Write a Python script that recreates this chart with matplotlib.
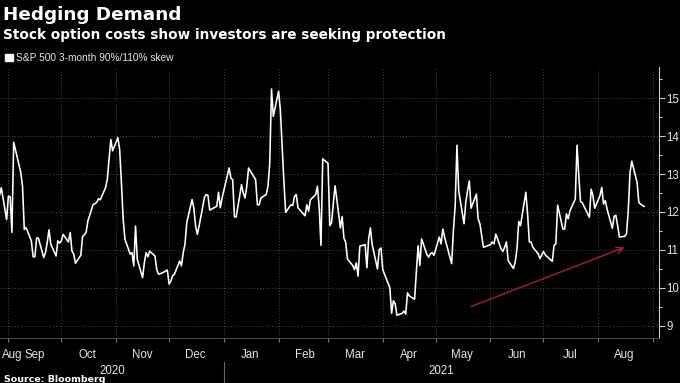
import pandas as pd
import matplotlib
matplotlib.use('Agg')
import matplotlib.pyplot as plt
import matplotlib.transforms as mtransforms
from matplotlib.ticker import MultipleLocator

# S&P 500 3-month 90%/110% skew, one value per trading day
skew = [
    12.44, 12.64, 11.80, 12.42, 12.40, 11.46, 13.84, 13.04, 12.68, 11.54,
    11.59, 11.24, 10.82, 10.82, 11.32, 11.31, 10.80, 10.93, 11.20, 11.53,
    11.15, 10.84, 11.24, 11.18, 11.24, 11.41, 11.21, 11.46, 10.97, 10.89,
    10.65, 10.86, 11.35, 11.40, 11.46, 11.76, 12.20, 12.22, 12.25, 12.35,
    12.32, 12.64, 12.86, 13.39, 13.91, 13.61, 13.96, 13.65, 12.77, 11.81,
    11.28, 10.89, 10.93, 10.58, 11.63, 10.75, 10.27, 10.67, 10.93, 10.82,
    10.97, 10.84, 10.49, 10.36, 10.39, 10.47, 10.10, 10.18, 10.32, 10.36,
    10.71, 10.58, 10.93, 11.15, 11.72, 12.33, 12.11, 11.63, 11.41, 11.63,
    12.38, 12.46, 12.44, 12.05, 12.15, 12.52, 12.11, 12.37, 13.16, 12.89,
    12.85, 11.87, 11.87, 12.72, 12.50, 12.37, 12.68, 13.16, 12.85, 12.19,
    12.19, 12.37, 12.46, 12.68, 13.29, 15.24, 14.52, 15.18, 14.69, 13.73,
    12.81, 11.99, 12.19, 12.17, 12.41, 12.46, 12.11, 11.90, 12.19, 12.02,
    12.32, 12.46, 12.68, 12.11, 11.12, 13.40, 13.28, 11.64, 11.72, 12.23,
    12.69, 11.58, 11.88, 11.31, 11.20, 10.76, 10.59, 10.48, 10.66, 10.31,
    11.10, 11.14, 10.53, 11.29, 11.58, 11.14, 10.50, 11.01, 11.05, 10.48,
    10.00, 9.33, 9.66, 9.59, 9.28, 9.33, 9.39, 9.31, 9.87, 9.79,
    9.70, 10.40, 11.11, 10.59, 11.29, 10.88, 10.81, 10.90, 10.93, 10.86,
    11.34, 11.16, 11.55, 11.34, 11.16, 10.64, 11.51, 12.17, 13.76, 12.56,
    11.69, 12.25, 12.56, 12.82, 12.10, 12.47, 11.82, 11.69, 11.38, 11.07,
    11.14, 11.21, 11.16, 11.42, 11.03, 10.96, 11.07, 11.21, 10.72, 10.51,
    10.68, 11.03, 11.75, 11.64, 12.52, 11.95, 11.21, 11.21, 11.07, 10.90,
    10.77, 10.86, 10.96, 10.87, 10.70, 11.12, 11.16, 12.18, 11.55, 11.55,
    11.95, 11.82, 12.03, 12.34, 13.76, 12.95, 12.27, 12.24, 11.95, 11.86,
    12.60, 12.43, 12.10, 12.43, 12.65, 12.21, 12.30, 12.08, 11.57, 11.89,
    11.91, 11.64, 11.34, 11.36, 11.42, 12.03, 13.04, 13.34, 12.78, 12.25,
    12.21, 12.17, 12.15,
]

# NYSE holidays in the window
holidays = ['2020-09-07', '2020-11-26', '2020-12-25', '2021-01-01', '2021-01-18',
            '2021-02-15', '2021-04-02', '2021-05-31', '2021-07-05']
dates = pd.bdate_range('2020-08-27', periods=len(skew), freq='C', holidays=holidays)

month_labels = ['Sep', 'Oct', 'Nov', 'Dec', 'Jan', 'Feb', 'Mar', 'Apr', 'May', 'Jun', 'Jul', 'Aug']
month_starts = pd.date_range('2020-09-01', '2021-09-01', freq='MS')
year_labels = ['2020', '2021']

# trend arrow (tail -> tip)
arrow_tail = (pd.Timestamp('2021-05-21'), 9.51)
arrow_tip = (pd.Timestamp('2021-08-16'), 11.07)

bg = 'black'
grid_col = '#4a4a4a'
text_col = '#e6e6e6'
tick_font = 'Liberation Sans'
tick_size = 8.3

fig = plt.figure(figsize=(6.8, 3.83), dpi=100, facecolor=bg)
ax = fig.add_axes([0.0, 1 - 338 / 383, 659 / 680, (338 - 67) / 383])
ax.set_facecolor(bg)

ax.plot(dates, skew, color='white', lw=1.15)

x_left = pd.Timestamp('2020-08-27 06:00')
x_right = pd.Timestamp('2021-09-04 10:00')
ax.set_xlim(x_left, x_right)
ax.set_ylim(8.68, 15.82)

# y axis on the right
ax.yaxis.tick_right()
ax.set_yticks(range(9, 16))
ax.yaxis.set_minor_locator(MultipleLocator(0.5))
ax.tick_params(axis='y', which='major', length=4, width=0.8, color='#cccccc',
               labelcolor=text_col, labelsize=tick_size, pad=1.5)
ax.tick_params(axis='y', which='minor', length=2, width=0.8, color='#cccccc')
for lab in ax.get_yticklabels():
    lab.set_family(tick_font)

# x axis: ticks at month starts, labels mid-month
ax.set_xticks(month_starts)
ax.set_xticklabels([])
mid = [d + pd.Timedelta(days=15) for d in month_starts[:-1]]
ax.set_xticks(mid, minor=True)
ax.set_xticklabels(month_labels, minor=True)
ax.tick_params(axis='x', which='major', length=3, width=0.8, color='#777777')
ax.tick_params(axis='x', which='minor', length=0, pad=8, labelcolor=text_col, labelsize=tick_size)
for lab in ax.get_xticklabels(minor=True):
    lab.set_family(tick_font)

trans = mtransforms.blended_transform_factory(ax.transData, ax.transAxes)
ax.text(x_left + pd.Timedelta(days=1), -0.041, 'Aug', transform=trans, ha='left', va='top',
        color=text_col, fontsize=tick_size, family=tick_font)

# year labels, centred in the visible part of each year
jan1 = pd.Timestamp('2021-01-01')
ax.text(x_left + (jan1 - x_left) / 2, -0.121, year_labels[0], transform=trans,
        ha='center', va='center', color=text_col, fontsize=tick_size, family=tick_font)
ax.text(jan1 + (x_right - jan1) / 2, -0.121, year_labels[1], transform=trans,
        ha='center', va='center', color=text_col, fontsize=tick_size, family=tick_font)
ax.plot([jan1, jan1], [-0.088, -0.162], transform=trans, color='#666666', lw=0.8, clip_on=False)

ax.grid(True, which='major', color=grid_col, linestyle=(0, (1, 2)), lw=0.7)
ax.set_axisbelow(True)

for s in ['top', 'left']:
    ax.spines[s].set_visible(False)
ax.spines['right'].set_color('#cccccc')
ax.spines['right'].set_linewidth(0.8)
ax.spines['bottom'].set_color('#555555')
ax.spines['bottom'].set_linewidth(0.6)

ax.annotate('', xy=arrow_tip, xytext=arrow_tail,
            arrowprops=dict(arrowstyle='->', color='#9b1b3f', lw=1.1,
                            mutation_scale=12, shrinkA=0, shrinkB=0))

# titles and legend
fig.text(0.004, 1 - 20 / 383, 'Hedging Demand', color='white', fontsize=13.2,
         fontweight='bold', va='baseline', ha='left')
fig.text(0.004, 1 - 39.5 / 383, 'Stock option costs show investors are seeking protection',
         color='white', fontsize=9.8, fontweight='bold', va='baseline', ha='left')
fig.patches.append(plt.Rectangle((5 / 680, 1 - 61 / 383), 8 / 680, 7 / 383,
                                 transform=fig.transFigure, color='white', figure=fig))
fig.text(16 / 680, 1 - 61 / 383, 'S&P 500 3-month 90%/110% skew', color=text_col,
         fontsize=7.3, va='baseline', ha='left', family=tick_font)
fig.text(0.006, 1 - 381.5 / 383, 'Source: Bloomberg', color='white', fontsize=6.8,
         fontweight='bold', va='baseline', ha='left')

fig.savefig('out.png', dpi=100, facecolor=bg)
